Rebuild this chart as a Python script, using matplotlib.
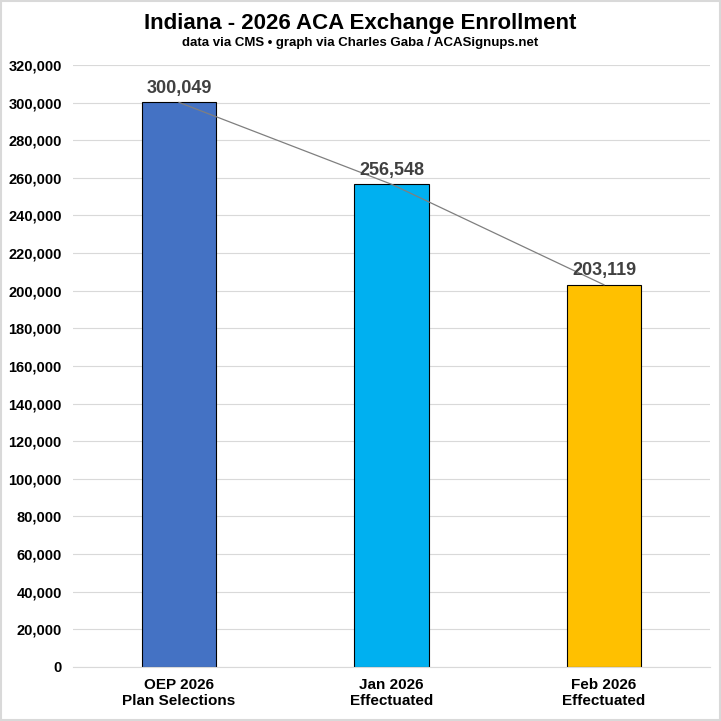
import matplotlib.pyplot as plt
from matplotlib.patches import Rectangle
from matplotlib.ticker import FuncFormatter

plt.rcParams['font.family'] = ['Liberation Sans', 'DejaVu Sans']
plt.rcParams['font.weight'] = 'bold'

categories = ['OEP 2026\nPlan Selections', 'Jan 2026\nEffectuated', 'Feb 2026\nEffectuated']
values = [300049, 256548, 203119]
colors = ['#4472C4', '#00B0F0', '#FFC000']

fig = plt.figure(figsize=(7.21, 7.21), dpi=100)
ax = fig.add_axes([0.101, 0.075, 0.884, 0.835])

x = list(range(len(categories)))
ax.bar(x, values, width=0.35, color=colors, edgecolor='black', linewidth=0.8, zorder=2)
ax.plot(x, values, color='#7F7F7F', linewidth=0.9, zorder=3)

for xi, v in zip(x, values):
    ax.text(xi, v + 3000, f'{v:,}', ha='center', va='bottom',
            fontsize=13, fontweight='bold', color='#404040', zorder=4)

ax.set_xlim(-0.5, 2.5)
ax.set_ylim(0, 320000)
ax.set_yticks(range(0, 320001, 20000))
ax.yaxis.set_major_formatter(FuncFormatter(lambda v, p: f'{int(v):,}'))
ax.set_xticks(x)
ax.set_xticklabels(categories, fontsize=11, fontweight='bold')
ax.tick_params(axis='y', labelsize=10.5, length=0, pad=8)
ax.tick_params(axis='x', length=0, pad=8)
ax.grid(axis='y', color='#D9D9D9', linewidth=0.8, zorder=0)
ax.set_axisbelow(True)
for s in ['top', 'right', 'left']:
    ax.spines[s].set_visible(False)
ax.spines['bottom'].set_color('#D9D9D9')

fig.text(0.5, 0.968, 'Indiana - 2026 ACA Exchange Enrollment', ha='center', va='center',
         fontsize=16, fontweight='bold')
fig.text(0.5, 0.940, 'data via CMS \u2022 graph via Charles Gaba / ACASignups.net', ha='center',
         va='center', fontsize=9.5, fontweight='bold')

fig.patches.append(Rectangle((0.001, 0.001), 0.998, 0.998, transform=fig.transFigure,
                             fill=False, edgecolor='#D9D9D9', linewidth=1.5))

fig.savefig('out.png', dpi=100)
